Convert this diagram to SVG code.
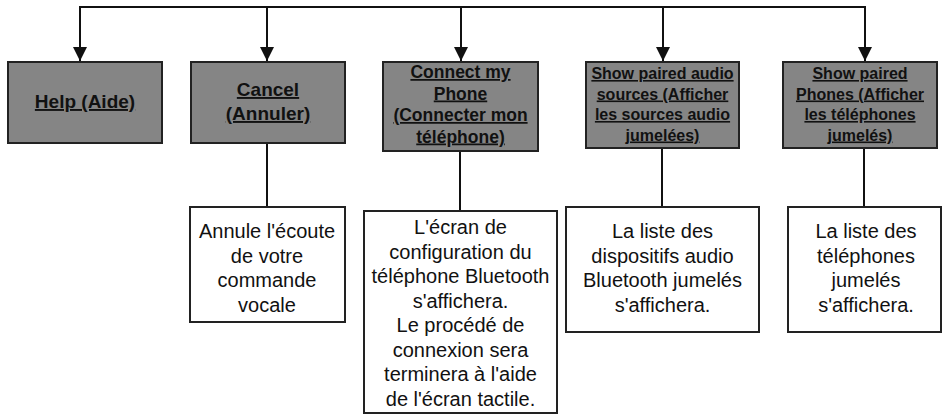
<svg xmlns="http://www.w3.org/2000/svg" width="943" height="414" viewBox="0 0 943 414">
<style>
.hdr{fill:#858585;stroke:#222;stroke-width:2}
.res{fill:#fff;stroke:#222;stroke-width:2}
.ht{font-family:"Liberation Sans",Arial,sans-serif;font-weight:bold;fill:#111;text-anchor:middle;text-decoration:underline}
.rt{font-family:"Liberation Sans",Arial,sans-serif;font-size:20px;fill:#111;text-anchor:middle}
.ln{fill:none;stroke:#111;stroke-width:2}
</style>
<defs>
<marker id="ah" markerUnits="userSpaceOnUse" markerWidth="16" markerHeight="14" refX="14" refY="7" orient="auto">
<path d="M0,0 L14,7 L0,14 Z" fill="#111"/>
</marker>
</defs>
<rect width="943" height="414" fill="#fff"/>
<g id="connectors">
<path class="ln" d="M80,8 V7 H865 V8"/>
<path class="ln" d="M80,7 V61" marker-end="url(#ah)"/>
<path class="ln" d="M267,7 V61" marker-end="url(#ah)"/>
<path class="ln" d="M461,7 V61" marker-end="url(#ah)"/>
<path class="ln" d="M663,7 V61" marker-end="url(#ah)"/>
<path class="ln" d="M865,7 V61" marker-end="url(#ah)"/>
<path class="ln" d="M267,143 V207"/>
<path class="ln" d="M460,151 V211"/>
<path class="ln" d="M662,148 V207"/>
<path class="ln" d="M864,148 V207"/>
</g>
<g id="help">
<rect class="hdr" x="8" y="62" width="154" height="81"/>
<text class="ht" font-size="19" x="85" y="108">Help (Aide)</text>
</g>
<g id="cancel">
<rect class="hdr" x="191" y="62" width="154" height="81"/>
<text class="ht" font-size="19" x="268" y="96">Cancel</text>
<text class="ht" font-size="19" x="268" y="120">(Annuler)</text>
</g>
<g id="connect">
<rect class="hdr" x="383" y="62" width="155" height="89"/>
<text class="ht" font-size="17.5" x="460.5" y="78">Connect my</text>
<text class="ht" font-size="17.5" x="460.5" y="99.5">Phone</text>
<text class="ht" font-size="17.5" x="460.5" y="121">(Connecter mon</text>
<text class="ht" font-size="17.5" x="460.5" y="142.5">téléphone)</text>
</g>
<g id="audio">
<rect class="hdr" x="586" y="62" width="153" height="86"/>
<text class="ht" font-size="16" x="662.5" y="79">Show paired audio</text>
<text class="ht" font-size="16" x="662.5" y="99.5">sources (Afficher</text>
<text class="ht" font-size="16" x="662.5" y="120">les sources audio</text>
<text class="ht" font-size="16" x="662.5" y="140.5">jumelées)</text>
</g>
<g id="phones">
<rect class="hdr" x="783" y="62" width="154" height="86"/>
<text class="ht" font-size="16" x="860" y="79">Show paired</text>
<text class="ht" font-size="16" x="860" y="99.5">Phones (Afficher</text>
<text class="ht" font-size="16" x="860" y="120">les téléphones</text>
<text class="ht" font-size="16" x="860" y="140.5">jumelés)</text>
</g>
<g id="cancel-result">
<rect class="res" x="190" y="207" width="155" height="115"/>
<text class="rt" x="267" y="238">Annule l'écoute</text>
<text class="rt" x="267" y="262.5">de votre</text>
<text class="rt" x="267" y="287">commande</text>
<text class="rt" x="267" y="311.5">vocale</text>
</g>
<g id="connect-result">
<rect class="res" x="364" y="211" width="193" height="202"/>
<text class="rt" x="460.5" y="234">L'écran de</text>
<text class="rt" x="460.5" y="258.5">configuration du</text>
<text class="rt" x="460.5" y="283">téléphone Bluetooth</text>
<text class="rt" x="460.5" y="307.5">s'affichera.</text>
<text class="rt" x="460.5" y="332">Le procédé de</text>
<text class="rt" x="460.5" y="356.5">connexion sera</text>
<text class="rt" x="460.5" y="381">terminera à l'aide</text>
<text class="rt" x="460.5" y="405.5">de l'écran tactile.</text>
</g>
<g id="audio-result">
<rect class="res" x="566" y="207" width="193" height="125"/>
<text class="rt" x="662.5" y="238">La liste des</text>
<text class="rt" x="662.5" y="262.5">dispositifs audio</text>
<text class="rt" x="662.5" y="287">Bluetooth jumelés</text>
<text class="rt" x="662.5" y="311.5">s'affichera.</text>
</g>
<g id="phones-result">
<rect class="res" x="788" y="207" width="153" height="125"/>
<text class="rt" x="866" y="238">La liste des</text>
<text class="rt" x="866" y="262.5">téléphones</text>
<text class="rt" x="866" y="287">jumelés</text>
<text class="rt" x="866" y="311.5">s'affichera.</text>
</g>
</svg>
